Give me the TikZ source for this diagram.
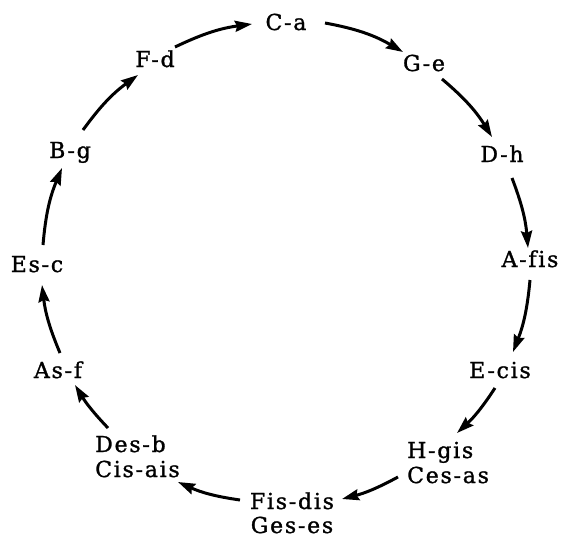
\documentclass[tikz,border=0pt]{standalone}
\usepackage{fontspec}
\setmainfont{DejaVu Serif}[Ligatures=NoCommon, LetterSpace=8, FakeBold=1.2]
\usetikzlibrary{arrows.meta}
\newcommand{\twoL}[2]{\vtop{\baselineskip=25pt\halign{##\hfil\cr #1\cr #2\cr}}}
\newcommand{\twoC}[2]{\vtop{\baselineskip=24pt\halign{\hfil##\hfil\cr #1\cr #2\cr}}}
\begin{document}
\begin{tikzpicture}[x=1pt,y=-1pt,
  lab/.style={inner sep=0pt, anchor=base, font=\fontsize{22}{25}\selectfont},
  labw/.style={lab, anchor=base west},
  arr/.style={line width=3pt, -{Stealth[length=17pt,width=11pt,inset=2pt]}}]
\useasboundingbox (0,0) rectangle (565,539);
\node[lab]  (Ca)   at (286,30)  {C-a};
\node[lab]  (Ge)   at (424,71)  {G-e};
\node[lab]  (Dh)   at (502,162) {D-h};
\node[lab]  (Afis) at (530,267) {A-fis};
\node[lab]  (Ecis) at (500,378) {E-cis};
\node[labw] (Hgis) at (407,458) {\twoL{H-gis}{Ces-as}};
\node[lab]  (Fis)  at (292,509) {\twoC{Fis-dis}{Ges-es}};
\node[labw] (Des)  at (95,452)  {\twoL{Des-b}{Cis-ais}};
\node[lab]  (Asf)  at (58,378)  {As-f};
\node[lab]  (Esc)  at (37,272)  {Es-c};
\node[lab]  (Bg)   at (70,158)  {B-g};
\node[lab]  (Fd)   at (155,67)  {F-d};
\draw[arr] ([shift={(39,-7)}]Ca.base) to[bend left=10] ([shift={(-21,-19)}]Ge.base);
\draw[arr] ([shift={(18,8)}]Ge.base) to[bend left=9] ([shift={(-10,-25)}]Dh.base);
\draw[arr] ([shift={(10,16)}]Dh.base) to[bend left=8] ([shift={(-2,-19)}]Afis.base);
\draw[arr] ([shift={(0,13)}]Afis.base) to[bend left=8] ([shift={(13,-26)}]Ecis.base);
\draw[arr] ([shift={(-5,10)}]Ecis.base) to[bend left=7] ([shift={(50,-25)}]Hgis.base west);
\draw[arr] ([shift={(-9,19)}]Hgis.base west) to[bend left=7] ([shift={(50,-10)}]Fis.base);
\draw[arr] ([shift={(-52,-9)}]Fis.base) to[bend left=8] ([shift={(83,30)}]Des.base west);
\draw[arr] ([shift={(13,-24)}]Des.base west) to[bend left=6] ([shift={(17,7)}]Asf.base);
\draw[arr] ([shift={(2,-25)}]Asf.base) to[bend left=8] ([shift={(5,13)}]Esc.base);
\draw[arr] ([shift={(6,-27)}]Esc.base) to[bend left=9] ([shift={(-8,10)}]Bg.base);
\draw[arr] ([shift={(13,-28)}]Bg.base) to[bend left=9] ([shift={(-17,8)}]Fd.base);
\draw[arr] ([shift={(20,-20)}]Fd.base) to[bend left=9] ([shift={(-34,-6)}]Ca.base);
\end{tikzpicture}
\end{document}
